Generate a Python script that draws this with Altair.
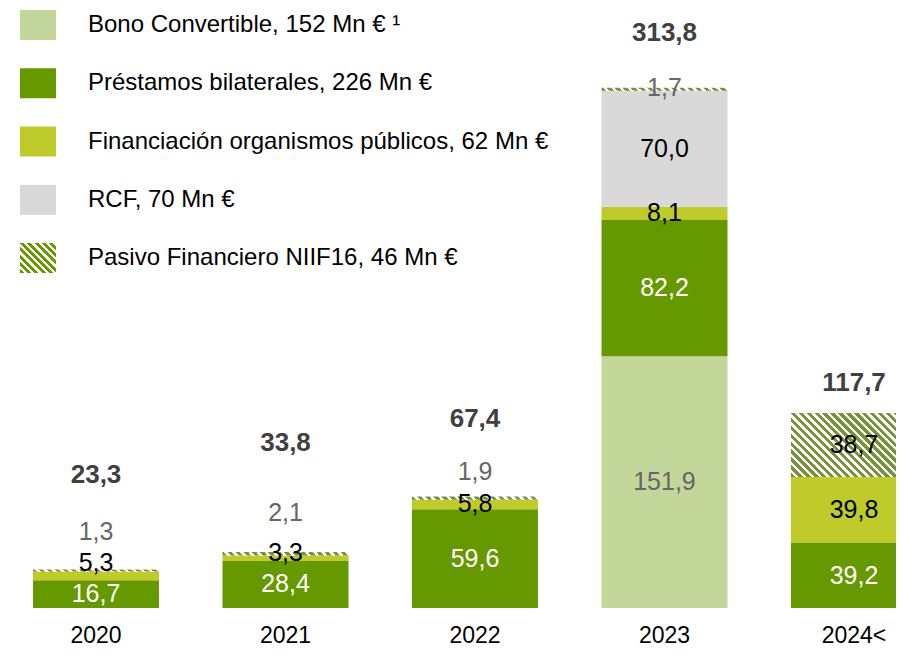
import altair as alt
import pandas as pd

# ---------------- data ----------------
years = ["2020", "2021", "2022", "2023", "2024<"]
series = ["Bono Convertible", "Préstamos bilaterales", "Financiación organismos públicos",
          "RCF", "Pasivo Financiero NIIF16"]
bono = [0.0, 0.0, 0.0, 151.9, 0.0]
prestamos = [16.7, 28.4, 59.6, 82.2, 39.2]
organismos = [5.3, 3.3, 5.8, 8.1, 39.8]
rcf = [0.0, 0.0, 0.0, 70.0, 0.0]
niif = [1.3, 2.1, 1.9, 1.7, 38.7]
totals = [23.3, 33.8, 67.4, 313.8, 117.7]
legend_labels = ["Bono Convertible, 152 Mn € ¹", "Préstamos bilaterales, 226 Mn €",
                 "Financiación organismos públicos, 62 Mn €", "RCF, 70 Mn €",
                 "Pasivo Financiero NIIF16, 46 Mn €"]

# ---------------- styling / layout ----------------
solid_colors = ["#C4D79B", "#669900", "#BFCB2A", "#D9D9D9", "#77933C"]
HATCH_BAR = "#77933C"
HATCH_LEG = "#669900"
W, H = 888, 600
YMAX = 362.1
PPU = H / YMAX  # pixels per unit
BAND = 126
# label nudges in pixels (negative = up)
org_dy = [-13, -5, 0, 0, 0]
niif_dy = [-37, -39, -24, 0, 0]
total_dy = [-94, -109, -77, -55, -30]

SANS = "Liberation Sans"


def fmt(v):
    return f"{v:.1f}".replace(".", ",")


def hatch(w, h, n, ink, paper="#FFFFFF", frac=0.55):
    r = h / w
    k = (1 + r) / (1 + r * r)
    stops = []
    for i in range(n):
        a, b, c = i / n, (i + frac) / n, (i + 1) / n
        stops += [{"offset": a, "color": ink}, {"offset": b, "color": ink},
                  {"offset": b, "color": paper}, {"offset": c, "color": paper}]
    return {"gradient": "linear", "x1": 0, "y1": 1, "x2": k, "y2": 1 - k * r, "stops": stops}


rows = []
for i, yr in enumerate(years):
    base = 0.0
    for s, vals in zip(series, [bono, prestamos, organismos, rcf, niif]):
        v = vals[i]
        rows.append(dict(year=yr, series=s, value=v, y0=base, y1=base + v,
                         mid=base + v / 2, label=fmt(v), idx=i))
        base += v
df = pd.DataFrame(rows)
df_org = df[df.series == series[2]].copy()
df_org["ly"] = df_org.mid - df_org.idx.map(lambda j: org_dy[j]) / PPU
df_niif = df[df.series == series[4]].copy()
df_niif["ly"] = [
    (r.y1 - niif_dy[r.idx] / PPU) if r.value < 10 else r.mid for r in df_niif.itertuples()
]
tot = pd.DataFrame({"year": years, "total": totals,
                    "top": [df[df.year == y].y1.max() for y in years]})
tot["label"] = tot.total.map(fmt)
tot["ly"] = [t - d / PPU for t, d in zip(tot.top, total_dy)]

yscale = alt.Scale(domain=[0, YMAX], nice=False, zero=True)
xscale = alt.Scale(domain=years, range=[25, 909], paddingInner=0.335, paddingOuter=0)
xaxis = alt.Axis(title=None, ticks=False, tickSize=0, domain=False, labelAngle=0,
                 labelFont=SANS, labelFontSize=23, labelColor="#000000", labelPadding=16)
xenc = alt.X("year:N", sort=years, scale=xscale, axis=xaxis)
cscale = alt.Scale(domain=series, range=solid_colors)

bars = alt.Chart(df).transform_filter(alt.datum.series != series[4]).transform_filter(
    alt.datum.value > 0).mark_bar(clip=True).encode(
    x=xenc,
    y=alt.Y("y1:Q", scale=yscale, axis=None),
    y2="y0:Q",
    color=alt.Color("series:N", scale=cscale, legend=None),
)

niif_big = alt.Chart(df_niif).transform_filter(alt.datum.value >= 10).mark_bar(
    clip=True, color=hatch(BAND, 38.7 * PPU, 24, HATCH_BAR)).encode(
    x=xenc, y=alt.Y("y1:Q", scale=yscale, axis=None), y2="y0:Q")
niif_thin = alt.Chart(df_niif).transform_filter(alt.datum.value < 10).mark_bar(
    clip=True, color=hatch(BAND, 3, 16, HATCH_BAR)).encode(
    x=xenc, y=alt.Y("y1:Q", scale=yscale, axis=None), y2="y0:Q")


def txt(data, ycol, color, size=25, weight="normal"):
    return alt.Chart(data).mark_text(font=SANS, fontSize=size, fontWeight=weight,
                                     color=color, baseline="middle").encode(
        x=xenc, y=alt.Y(f"{ycol}:Q", scale=yscale, axis=None), text="label:N")


lab_bono = txt(df[(df.series == series[0]) & (df.value > 0)], "mid", "#666666")
lab_prest = txt(df[df.series == series[1]], "mid", "#FFFFFF")
lab_org = txt(df_org, "ly", "#000000")
lab_rcf = txt(df[(df.series == series[3]) & (df.value > 0)], "mid", "#000000")
lab_niif_s = txt(df_niif[df_niif.value < 10], "ly", "#666666")
lab_niif_b = txt(df_niif[df_niif.value >= 10], "ly", "#000000")
lab_tot = txt(tot, "ly", "#404040", size=26, weight="bold")

# ---------------- legend ----------------
leg = pd.DataFrame({"series": series, "label": legend_labels})
lyscale = alt.Scale(domain=series, range=[-12.1, 279.1], paddingInner=0.485, paddingOuter=0.2425)
leg_sw = alt.Chart(leg).transform_filter(alt.datum.series != series[4]).mark_rect().encode(
    x=alt.value(12), x2=alt.value(48),
    y=alt.Y("series:N", scale=lyscale, axis=None),
    color=alt.Color("series:N", scale=cscale, legend=None))
leg_hatch = alt.Chart(leg).transform_filter(alt.datum.series == series[4]).mark_rect(
    color=hatch(36, 30, 9, HATCH_LEG)).encode(
    x=alt.value(12), x2=alt.value(48),
    y=alt.Y("series:N", scale=lyscale, axis=None))
leg_txt = alt.Chart(leg).mark_text(align="left", baseline="middle", font=SANS,
                                   fontSize=24, color="#000000").encode(
    x=alt.value(80), y=alt.Y("series:N", scale=lyscale, axis=None), text="label:N")

chart = alt.layer(
    bars, niif_big, niif_thin,
    lab_bono, lab_prest, lab_org, lab_rcf, lab_niif_s, lab_niif_b, lab_tot,
    leg_sw, leg_hatch, leg_txt,
).resolve_scale(y="independent").properties(
    width=W, height=H,
    autosize=alt.AutoSizeParams(type="none"),
    padding={"left": 0, "right": 0, "top": 0, "bottom": 41},
).configure_view(stroke=None)

chart.save("out.html", embed_options={"renderer": "svg", "actions": False})
